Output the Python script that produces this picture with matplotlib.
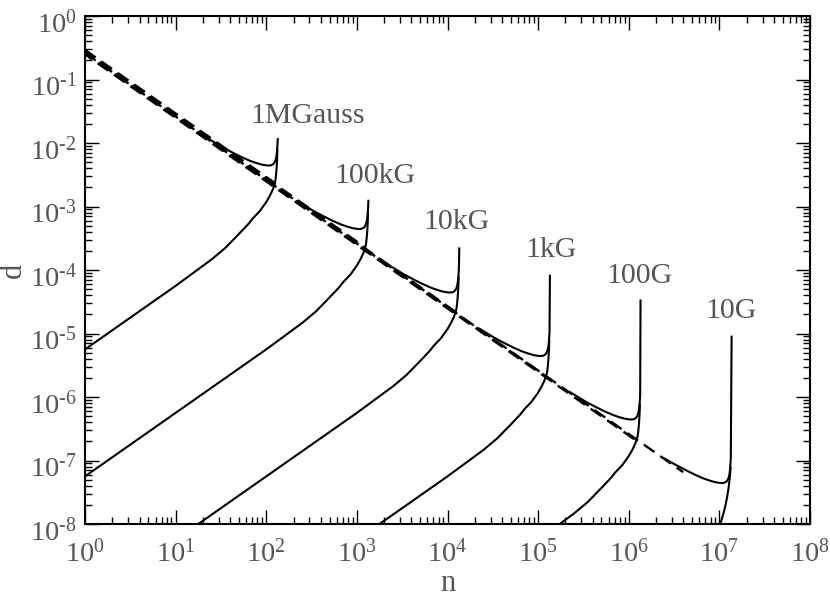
import matplotlib
matplotlib.use('Agg')
import matplotlib.pyplot as plt
import matplotlib.transforms as mtransforms
import numpy as np
from matplotlib.ticker import LogLocator, FuncFormatter, NullFormatter, FixedLocator

plt.rcParams['font.family'] = ['Liberation Serif', 'DejaVu Serif']
plt.rcParams['mathtext.fontset'] = 'custom'
plt.rcParams['mathtext.rm'] = 'Liberation Serif'
plt.rcParams['mathtext.it'] = 'Liberation Serif:italic'
plt.rcParams['mathtext.bf'] = 'Liberation Serif:bold'

# ---------------- data (log10 values) ----------------
fields = ['1MGauss', '100kG', '10kG', '1kG', '100G', '10G']

# tick exponents
x_tick_exp = [0, 1, 2, 3, 4, 5, 6, 7, 8]
y_tick_exp = [-8, -7, -6, -5, -4, -3, -2, -1, 0]

# upper branches (log10 n, log10 d)
upper_logn = [
    [1.35, 1.40, 1.52, 1.64, 1.74, 1.82, 1.89, 1.95, 2.00, 2.03, 2.055, 2.075, 2.09, 2.10, 2.108, 2.114, 2.119, 2.123, 2.126, 2.127],
    [2.35, 2.40, 2.52, 2.64, 2.74, 2.82, 2.89, 2.95, 3.00, 3.03, 3.055, 3.075, 3.09, 3.10, 3.108, 3.114, 3.119, 3.123, 3.126, 3.127],
    [3.35, 3.40, 3.52, 3.64, 3.74, 3.82, 3.89, 3.95, 4.00, 4.03, 4.055, 4.075, 4.09, 4.10, 4.108, 4.114, 4.119, 4.123, 4.126, 4.130],
    [4.35, 4.40, 4.52, 4.64, 4.74, 4.82, 4.89, 4.95, 5.00, 5.03, 5.055, 5.075, 5.09, 5.10, 5.108, 5.114, 5.119, 5.123, 5.126, 5.130],
    [5.35, 5.40, 5.52, 5.64, 5.74, 5.82, 5.89, 5.95, 6.00, 6.03, 6.055, 6.075, 6.09, 6.10, 6.108, 6.114, 6.119, 6.123, 6.126, 6.130],
    [6.40, 6.45, 6.52, 6.64, 6.74, 6.82, 6.89, 6.95, 7.00, 7.03, 7.055, 7.075, 7.09, 7.10, 7.108, 7.114, 7.119, 7.123, 7.126, 7.135],
]
upper_logd = [
    [-1.922, -1.965, -2.07, -2.16, -2.23, -2.28, -2.315, -2.34, -2.352, -2.355, -2.35, -2.335, -2.31, -2.28, -2.24, -2.19, -2.12, -2.04, -1.96, -1.94],
    [-2.922, -2.965, -3.07, -3.16, -3.23, -3.28, -3.315, -3.34, -3.352, -3.355, -3.35, -3.335, -3.31, -3.28, -3.24, -3.19, -3.12, -3.04, -2.96, -2.91],
    [-3.922, -3.965, -4.07, -4.16, -4.23, -4.28, -4.315, -4.34, -4.352, -4.355, -4.35, -4.335, -4.31, -4.28, -4.24, -4.19, -4.12, -4.04, -3.96, -3.66],
    [-4.922, -4.965, -5.07, -5.16, -5.23, -5.28, -5.315, -5.34, -5.352, -5.355, -5.35, -5.335, -5.31, -5.28, -5.24, -5.19, -5.12, -5.04, -4.96, -4.09],
    [-5.922, -5.965, -6.07, -6.16, -6.23, -6.28, -6.315, -6.34, -6.352, -6.355, -6.35, -6.335, -6.31, -6.28, -6.24, -6.19, -6.12, -6.04, -5.96, -4.48],
    [-6.972, -7.015, -7.07, -7.16, -7.23, -7.28, -7.315, -7.34, -7.352, -7.355, -7.35, -7.335, -7.31, -7.28, -7.24, -7.19, -7.12, -7.04, -6.96, -5.05],
]

# lower branches (log10 n, log10 d)
lower_logn = [
    [0.00, 1.00, 1.20, 1.40, 1.55, 1.70, 1.80, 1.85, 1.93, 2.00, 2.04, 2.07, 2.09, 2.10, 2.108, 2.115, 2.12, 2.123],
    [0.00, 2.00, 2.20, 2.40, 2.55, 2.70, 2.80, 2.85, 2.93, 3.00, 3.04, 3.07, 3.09, 3.10, 3.108, 3.115, 3.12, 3.123],
    [1.00, 3.00, 3.20, 3.40, 3.55, 3.70, 3.80, 3.85, 3.93, 4.00, 4.04, 4.07, 4.09, 4.10, 4.108, 4.115, 4.12, 4.123],
    [3.00, 4.00, 4.20, 4.40, 4.55, 4.70, 4.80, 4.85, 4.93, 5.00, 5.04, 5.07, 5.09, 5.10, 5.108, 5.115, 5.12, 5.123],
    [5.00, 5.20, 5.40, 5.55, 5.70, 5.80, 5.85, 5.93, 6.00, 6.04, 6.07, 6.09, 6.10, 6.108, 6.115, 6.12, 6.123],
    [6.90, 6.95, 6.98, 7.01, 7.04, 7.065, 7.085, 7.10, 7.11, 7.117, 7.121, 7.123],
]
lower_logd = [
    [-5.25, -4.25, -4.04, -3.83, -3.65, -3.43, -3.28, -3.19, -3.07, -2.93, -2.83, -2.74, -2.66, -2.60, -2.50, -2.38, -2.25, -2.12],
    [-7.25, -5.25, -5.04, -4.83, -4.65, -4.43, -4.28, -4.19, -4.07, -3.93, -3.83, -3.74, -3.66, -3.60, -3.50, -3.38, -3.25, -3.12],
    [-8.25, -6.25, -6.04, -5.83, -5.65, -5.43, -5.28, -5.19, -5.07, -4.93, -4.83, -4.74, -4.66, -4.60, -4.50, -4.38, -4.25, -4.12],
    [-8.25, -7.25, -7.04, -6.83, -6.65, -6.43, -6.28, -6.19, -6.07, -5.93, -5.83, -5.74, -5.66, -5.60, -5.50, -5.38, -5.25, -5.12],
    [-8.25, -8.04, -7.83, -7.65, -7.43, -7.28, -7.19, -7.07, -6.93, -6.83, -6.74, -6.66, -6.60, -6.50, -6.38, -6.25, -6.12],
    [-8.40, -8.25, -8.12, -8.00, -7.86, -7.72, -7.58, -7.45, -7.33, -7.24, -7.17, -7.12],
]

# dashed asymptote lines (start / end, log10 values)
dash_logn = [[0.0, 2.09], [0.0, 3.09], [0.0, 4.09], [0.0, 5.09], [0.0, 6.09], [0.0, 6.60]]
dash_logd = [[-0.583, -2.673], [-0.583, -3.673], [-0.583, -4.673],
             [-0.583, -5.673], [-0.583, -6.673], [-0.583, -7.183]]

# label anchors (log10 n, log10 d)
label_logn = [2.46, 3.20, 4.095, 5.143, 6.115, 7.13]
label_logd = [-1.575, -2.52, -3.244, -3.685, -4.094, -4.646]

# ---------------- figure ----------------
W, H, DPI = 830, 598, 100
fig = plt.figure(figsize=(W / DPI, H / DPI), dpi=DPI)
ax = fig.add_axes([85 / W, 1 - 524 / H, 725 / W, 508 / H])
ax.set_xscale('log')
ax.set_yscale('log')

TXT = '#555555'
lw = 1.5
dash_offsets_pt = [2.2, 1.4, 0.6, -0.2, -1.0, 0.0]
dash_phase = [0.0, 0.5, 1.0, 1.5, 2.0, 0.0]
for k in range(len(fields)):
    off = mtransforms.offset_copy(ax.transData, fig=fig, x=0, y=dash_offsets_pt[k], units='points')
    ax.plot(10 ** np.array(dash_logn[k]), 10 ** np.array(dash_logd[k]),
            color='black', lw=1.7, linestyle=(dash_phase[k], (5.5, 3.0)),
            transform=off, dash_capstyle='butt')

for k in range(len(fields)):
    ax.plot(10 ** np.array(upper_logn[k]), 10 ** np.array(upper_logd[k]), color='black', lw=lw)
    ax.plot(10 ** np.array(lower_logn[k]), 10 ** np.array(lower_logd[k]), color='black', lw=lw)
    ax.text(10 ** label_logn[k], 10 ** label_logd[k], fields[k], ha='center', va='center',
            fontsize=21.5, color=TXT)

ax.set_xlabel('n', fontsize=22, color=TXT, va='baseline')
ax.xaxis.set_label_coords(0.5, (524 - 591) / 508)
ax.set_ylabel('d', fontsize=22, color=TXT)
ax.yaxis.set_label_coords((28 - 85) / 725, 0.5)


def pow10(v, pos):
    e = int(round(np.log10(v)))
    s = str(abs(e))
    if e < 0:
        s = '\u2010' + s
    return r'$\mathdefault{10^{\mathrm{' + s + r'}}}$'


ax.xaxis.set_major_locator(FixedLocator([10.0 ** e for e in x_tick_exp]))
ax.yaxis.set_major_locator(FixedLocator([10.0 ** e for e in y_tick_exp]))
for axis in (ax.xaxis, ax.yaxis):
    axis.set_minor_locator(LogLocator(base=10, subs=np.arange(2, 10), numticks=20))
    axis.set_major_formatter(FuncFormatter(pow10))
    axis.set_minor_formatter(NullFormatter())

ax.set_xlim(10.0 ** x_tick_exp[0], 10.0 ** x_tick_exp[-1])
ax.set_ylim(10.0 ** y_tick_exp[0], 10.0 ** y_tick_exp[-1])

ax.tick_params(which='both', direction='in', top=True, right=True, colors='black',
               labelcolor=TXT, labelsize=20.5)
ax.tick_params(which='major', length=10, width=1.0)
ax.tick_params(which='minor', length=5, width=1.0)
ax.tick_params(axis='x', which='major', pad=11)
ax.tick_params(axis='y', which='major', pad=6)
for s in ax.spines.values():
    s.set_linewidth(1.5)

shift = mtransforms.ScaledTranslation(0, -0.05, fig.dpi_scale_trans)
for lab in ax.get_yticklabels():
    lab.set_transform(lab.get_transform() + shift)

fig.savefig('out.png', dpi=DPI)
